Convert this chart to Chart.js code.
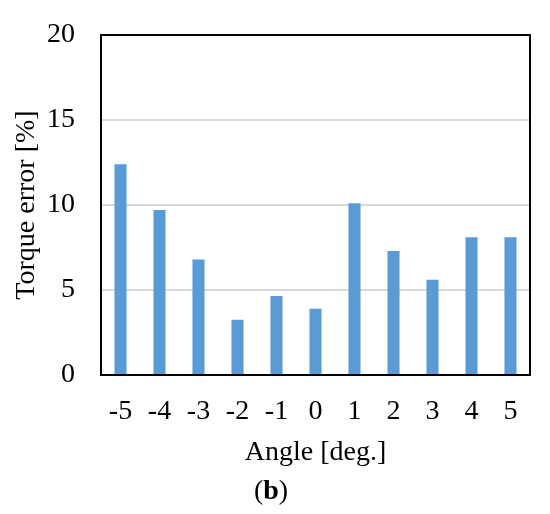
<!DOCTYPE html>
<html>
<head>
<meta charset="utf-8">
<script src="https://cdn.jsdelivr.net/npm/chart.js@4/dist/chart.umd.min.js"></script>
<style>
  html, body { margin: 0; padding: 0; background: #fff; }
  #wrap { position: relative; width: 550px; height: 514px; }
  #cap { position: absolute; left: 0; width: 542px; top: 474px; text-align: center;
         font-family: "Liberation Serif", "Times New Roman", serif; font-size: 28px; color: #000; }
</style>
</head>
<body>
<div id="wrap">
  <canvas id="c" width="550" height="514"></canvas>
  <div id="cap">(<b>b</b>)</div>
</div>
<script>
const angles = ['-5', '-4', '-3', '-2', '-1', '0', '1', '2', '3', '4', '5'];
const torqueError = [12.4, 9.7, 6.8, 3.25, 4.65, 3.9, 10.1, 7.3, 5.6, 8.1, 8.1];
const yTicks = [0, 5, 10, 15, 20];

const FONT = '"Liberation Serif", "Times New Roman", serif';

const frame = {
  id: 'frame',
  afterDatasetsDraw(chart) {
    const a = chart.chartArea, ctx = chart.ctx;
    ctx.save();
    ctx.strokeStyle = '#000';
    ctx.lineWidth = 2;
    ctx.strokeRect(a.left, a.top, a.right - a.left, a.bottom - a.top);
    ctx.restore();
  }
};

new Chart(document.getElementById('c'), {
  type: 'bar',
  data: {
    labels: angles,
    datasets: [{
      data: torqueError,
      backgroundColor: '#5b9bd5',
      barPercentage: 0.31,
      categoryPercentage: 1.0
    }]
  },
  options: {
    responsive: false,
    animation: false,
    devicePixelRatio: 1,
    layout: { padding: { left: 0, right: 20, top: 35, bottom: 0 } },
    plugins: { legend: { display: false }, tooltip: { enabled: false } },
    scales: {
      x: {
        grid: { display: false, drawTicks: false },
        border: { display: false },
        ticks: { color: '#000', font: { family: FONT, size: 28 }, padding: 20, maxRotation: 0 },
        title: { display: true, text: 'Angle [deg.]', color: '#000',
                 font: { family: FONT, size: 28 }, padding: { top: 0, bottom: 45 } },
        afterFit(s) { s.height = 139; s.paddingLeft = 0; s.paddingRight = 0; }
      },
      y: {
        min: 0, max: 20,
        afterBuildTicks(s) { s.ticks = yTicks.map(v => ({ value: v })); },
        grid: { color: '#d9d9d9', lineWidth: 2, drawTicks: false },
        border: { display: false },
        ticks: { color: '#000', font: { family: FONT, size: 28 }, padding: 26 },
        title: { display: true, text: 'Torque error [%]', color: '#000',
                 font: { family: FONT, size: 28 }, padding: { top: 10, bottom: 0 } },
        afterFit(s) { s.width = 101; s.paddingTop = 0; s.paddingBottom = 0; }
      }
    }
  },
  plugins: [frame]
});
</script>
</body>
</html>
